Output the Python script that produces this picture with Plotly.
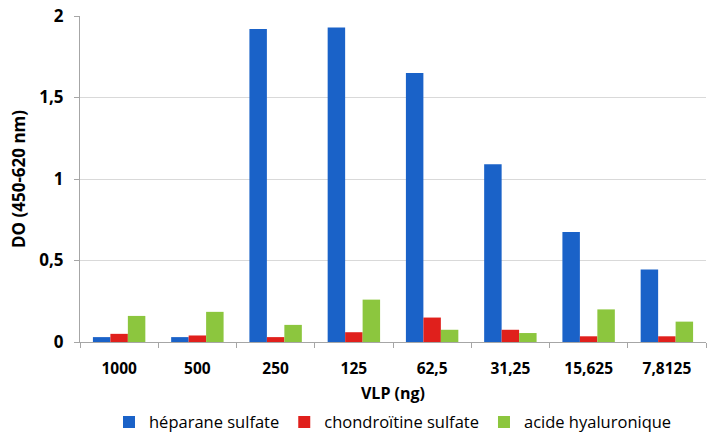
import plotly.graph_objects as go

categories = ["1000", "500", "250", "125", "62,5", "31,25", "15,625", "7,8125"]
heparane = [0.03, 0.03, 1.92, 1.93, 1.65, 1.09, 0.675, 0.445]
chondroitine = [0.05, 0.04, 0.03, 0.06, 0.15, 0.075, 0.035, 0.035]
hyaluronique = [0.16, 0.185, 0.105, 0.26, 0.075, 0.055, 0.2, 0.125]
y_ticks = [0, 0.5, 1, 1.5, 2]
y_ticklabels = ["0", "0,5", "1", "1,5", "2"]

font_main = "Open Sans, Liberation Sans, sans-serif"

fig = go.Figure()
fig.add_trace(go.Bar(name="héparane sulfate", x=categories, y=heparane,
                     marker=dict(color="#1A62C8", line=dict(width=0))))
fig.add_trace(go.Bar(name="chondroïtine sulfate", x=categories, y=chondroitine,
                     marker=dict(color="#E0201C", line=dict(width=0))))
fig.add_trace(go.Bar(name="acide hyaluronique", x=categories, y=hyaluronique,
                     marker=dict(color="#8CC63E", line=dict(width=0))))

fig.update_layout(
    width=707, height=439,
    margin=dict(l=80, r=1, t=16, b=97, autoexpand=False),
    paper_bgcolor="white", plot_bgcolor="white",
    barmode="group", bargap=0.33, bargroupgap=0,
    font=dict(family=font_main, color="#000000"),
    legend=dict(orientation="h", x=0.5, xanchor="center",
                yref="container", y=0.038, yanchor="middle",
                font=dict(size=16.5, family=font_main), itemwidth=30,
                traceorder="normal"),
    xaxis=dict(
        type="category", tickson="boundaries", ticks="outside", ticklen=5,
        tickcolor="#A6A6A6", showline=True, linecolor="#A6A6A6", linewidth=1,
        ticklabelstandoff=12,
        tickfont=dict(size=15.5, family=font_main, weight="bold"),
        title=dict(text="<b>VLP (ng)</b>", font=dict(size=16, family=font_main), standoff=10),
        showgrid=False, automargin=False,
    ),
    yaxis=dict(
        range=[0, 2], tickvals=y_ticks, ticktext=y_ticklabels,
        showgrid=True, gridcolor="#D9D9D9", gridwidth=1,
        showline=True, linecolor="#A6A6A6", linewidth=1,
        ticks="outside", ticklen=5, tickcolor="#A6A6A6",
        ticklabelstandoff=7,
        zeroline=False, automargin=False,
        tickfont=dict(size=17, family=font_main, weight="bold"),
        title=dict(text="<b>DO (450-620 nm)</b>", font=dict(size=17, family=font_main), standoff=9),
    ),
)

fig.write_html("out.html", config={"displayModeBar": False},
               post_script="document.body.style.margin='0';")
